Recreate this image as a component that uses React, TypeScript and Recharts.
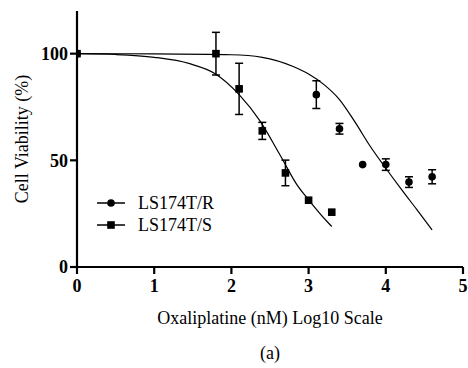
import {
  ComposedChart,
  ErrorBar,
  Legend,
  Line,
  Scatter,
  XAxis,
  YAxis,
} from "recharts";

// measured points (mean ± error)
const rX = [0, 3.1, 3.4, 3.7, 4.0, 4.3, 4.6];
const rY = [100, 80.8, 64.8, 48, 48, 39.8, 42.3];
const rErr = [0, 6.5, 2.5, 0, 2.7, 2.5, 3.3];

const sX = [0, 1.8, 2.1, 2.4, 2.7, 3.0, 3.3];
const sY = [100, 100, 83.5, 63.8, 44.1, 31.3, 25.7];
const sErr = [0, 10, 12, 4, 6, 0, 0];

// fitted curves
const rFitX = [0, 1, 2, 2.4, 2.8, 3.0, 3.2, 3.4, 3.6, 3.8, 4.0, 4.2, 4.4, 4.6];
const rFitY = [100, 99.9, 99.5, 98.3, 94, 90.5, 85.5, 78.5, 68, 56.5, 46.3, 36.5, 27, 17.4];

const sFitX = [0, 0.5, 1, 1.46, 1.79, 2.1, 2.37, 2.63, 2.85, 3.0, 3.26, 3.3];
const sFitY = [100, 99.6, 98.3, 95.3, 90.6, 80.8, 68.5, 52.5, 38.5, 31.5, 20.5, 19];

const xTicks = [0, 1, 2, 3, 4, 5];
const yTicks = [0, 50, 100];

const seriesNames = ["LS174T/R", "LS174T/S"];

const font = "Liberation Serif";

const toPoints = (xs: number[], ys: number[], errs?: number[]) =>
  xs.map((x, i) => ({ x, y: ys[i], err: errs ? errs[i] : 0 }));

const rData = toPoints(rX, rY, rErr);
const sData = toPoints(sX, sY, sErr);
const rFit = toPoints(rFitX, rFitY);
const sFit = toPoints(sFitX, sFitY);

const Dot = (p: any) => <circle cx={p.cx} cy={p.cy} r={3.8} fill="#000" />;
const Box = (p: any) => (
  <rect x={p.cx - 3.8} y={p.cy - 3.8} width={7.6} height={7.6} fill="#000" />
);

const LegendBox = () => (
  <div style={{ fontFamily: font, fontSize: 18, color: "#000", lineHeight: "22px" }}>
    {seriesNames.map((name, i) => (
      <div key={name} style={{ display: "flex", alignItems: "center", height: 22 }}>
        <svg width={28} height={12} style={{ marginRight: 13 }}>
          <line x1={0} y1={6} x2={28} y2={6} stroke="#000" strokeWidth={1.5} />
          {i === 0 ? (
            <circle cx={14} cy={6} r={3.8} fill="#000" />
          ) : (
            <rect x={10.2} y={2.2} width={7.6} height={7.6} fill="#000" />
          )}
        </svg>
        <span>{name}</span>
      </div>
    ))}
  </div>
);

const XTick = (p: any) => (
  <text
    x={p.x}
    y={p.y}
    dy="0.9em"
    textAnchor="middle"
    fontFamily={font}
    fontSize={18}
    fontWeight={700}
    fill="#000"
  >
    {p.payload.value}
  </text>
);

const XLabel = (props: any) => {
  const vb = props.viewBox;
  const cx = vb.x + vb.width / 2;
  return (
    <g fontFamily={font} fontSize={18} fill="#000">
      <text x={cx} y={vb.y + 57} textAnchor="middle">
        Oxaliplatine (nM) Log10 Scale
      </text>
      <text x={cx} y={vb.y + 92} textAnchor="middle">
        (a)
      </text>
    </g>
  );
};

const YLabel = (props: any) => {
  const vb = props.viewBox;
  const cx = 22;
  const cy = vb.y + vb.height / 2;
  return (
    <text
      x={cx}
      y={cy}
      transform={`rotate(-90, ${cx}, ${cy})`}
      textAnchor="middle"
      dominantBaseline="central"
      fontFamily={font}
      fontSize={18}
      fill="#000"
    >
      Cell Viability (%)
    </text>
  );
};

const tickStyle = { fontFamily: font, fontSize: 18, fontWeight: 700, fill: "#000" };

export default function App() {
  return (
    <div style={{ position: "absolute", left: 0, top: 0, width: 468, height: 368 }}>
      <ComposedChart
        width={468}
        height={368}
        margin={{ top: 11, right: 5, left: 8, bottom: 71 }}
      >
        <XAxis
          type="number"
          dataKey="x"
          domain={[0, 5]}
          ticks={xTicks}
          interval={0}
          height={30}
          tickSize={7}
          tickMargin={2}
          tick={<XTick />}
          axisLine={{ stroke: "#000", strokeWidth: 2.2 }}
          tickLine={{ stroke: "#000", strokeWidth: 2.2 }}
          label={<XLabel />}
          allowDataOverflow
        />
        <YAxis
          type="number"
          dataKey="y"
          domain={[0, 120]}
          ticks={yTicks}
          interval={0}
          width={69}
          tickSize={7}
          tickMargin={2}
          tick={tickStyle}
          axisLine={{ stroke: "#000", strokeWidth: 2.2 }}
          tickLine={{ stroke: "#000", strokeWidth: 2.2 }}
          label={<YLabel />}
          allowDataOverflow
        />
        <Legend
          layout="vertical"
          align="center"
          verticalAlign="middle"
          content={<LegendBox />}
          wrapperStyle={{ left: 97, top: 192, width: 160 }}
        />
        <Line
          data={rFit}
          dataKey="y"
          type="monotone"
          stroke="#000"
          strokeWidth={1.2}
          dot={false}
          legendType="none"
          isAnimationActive={false}
        />
        <Line
          data={sFit}
          dataKey="y"
          type="monotone"
          stroke="#000"
          strokeWidth={1.2}
          dot={false}
          legendType="none"
          isAnimationActive={false}
        />
        <Scatter
          name={seriesNames[0]}
          data={rData}
          dataKey="y"
          shape={Dot}
          isAnimationActive={false}
        >
          <ErrorBar dataKey="err" direction="y" width={4} stroke="#000" strokeWidth={1.5} />
        </Scatter>
        <Scatter
          name={seriesNames[1]}
          data={sData}
          dataKey="y"
          shape={Box}
          isAnimationActive={false}
        >
          <ErrorBar dataKey="err" direction="y" width={4} stroke="#000" strokeWidth={1.5} />
        </Scatter>
      </ComposedChart>
    </div>
  );
}
